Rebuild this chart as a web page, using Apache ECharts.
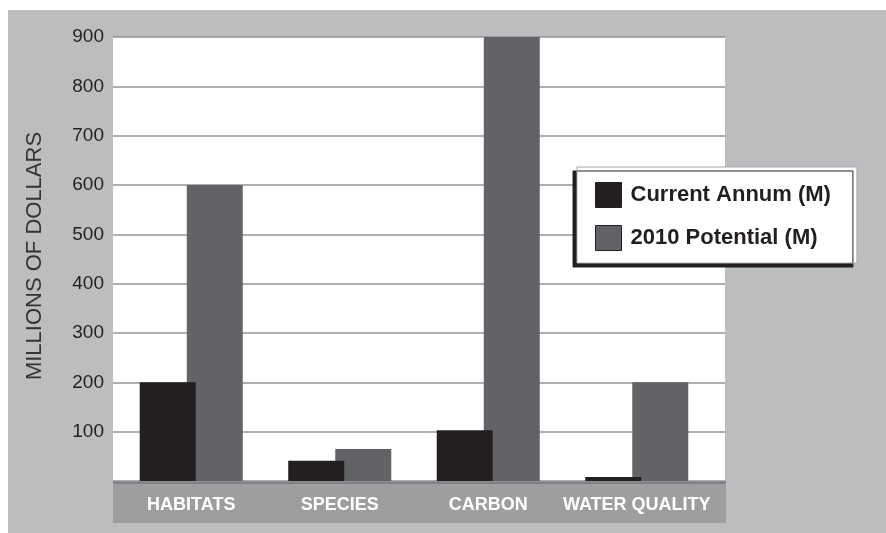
<!DOCTYPE html>
<html>
<head>
<meta charset="utf-8">
<script src="https://cdn.jsdelivr.net/npm/echarts@6/dist/echarts.min.js"></script>
<style>
html,body{margin:0;padding:0;background:#ffffff;}
#chart{width:886px;height:533px;}
</style>
</head>
<body>
<div id="chart"></div>
<script>
var categories = ['HABITATS', 'SPECIES', 'CARBON', 'WATER QUALITY'];
var currentAnnum = [200, 41, 103, 8];
var potential2010 = [600, 65, 900, 200];
var seriesNames = ['Current Annum (M)', '2010 Potential (M)'];
var yTicks = [0, 100, 200, 300, 400, 500, 600, 700, 800, 900];
var yTitle = 'MILLIONS OF DOLLARS';

var chart = echarts.init(document.getElementById('chart'), null, {renderer: 'canvas'});
var regular = '"Liberation Sans", Arial, Helvetica, sans-serif';

var option = {
  backgroundColor: '#ffffff',
  animation: false,
  graphic: [
    {type: 'rect', z: -10, silent: true, shape: {x: 8, y: 10, width: 878, height: 523}, style: {fill: '#bcbdbf'}},
    {type: 'rect', z: -9, silent: true, shape: {x: 113, y: 37, width: 612, height: 444}, style: {fill: '#ffffff'}},
    {type: 'rect', z: -9, silent: true, shape: {x: 113, y: 481, width: 613, height: 42}, style: {fill: '#9d9ea0'}},
    {type: 'rect', z: -8, silent: true, shape: {x: 113, y: 481, width: 613, height: 3}, style: {fill: '#808183'}}
  ],
  legend: {
    orient: 'vertical',
    left: 577,
    top: 167,
    data: seriesNames,
    itemWidth: 26,
    itemHeight: 25,
    itemGap: 17,
    padding: [15, 26, 12, 18],
    backgroundColor: '#ffffff',
    borderColor: '#a7a9ac',
    borderWidth: 1,
    shadowColor: '#231f20',
    shadowBlur: 0,
    shadowOffsetX: -4,
    shadowOffsetY: 4,
    icon: 'rect',
    itemStyle: {borderColor: '#231f20', borderWidth: 1},
    textStyle: {fontFamily: regular, fontSize: 22, fontWeight: 'bold', color: '#231f20', padding: [0, 0, 0, 4]}
  },
  grid: [
    {left: 113, right: 161, top: 37, bottom: 52},
    {left: 117, right: 175, top: 37, bottom: 52}
  ],
  xAxis: [
    {type: 'category', gridIndex: 0, data: categories, show: false},
    {
      type: 'category', gridIndex: 1, data: categories,
      axisLine: {show: false}, axisTick: {show: false},
      axisLabel: {color: '#ffffff', fontFamily: regular, fontSize: 18, fontWeight: 'bold', margin: 15, interval: 0}
    }
  ],
  yAxis: [
    {
      type: 'value', gridIndex: 0, min: yTicks[0], max: yTicks[yTicks.length - 1], interval: 100,
      axisLine: {show: false}, axisTick: {show: false},
      splitLine: {show: true, lineStyle: {color: '#939598', width: 1.5}},
      axisLabel: {
        color: '#231f20', fontFamily: regular, fontSize: 19, margin: 9, padding: [5, 0, 0, 0],
        formatter: function (v) { return v === 0 ? '' : String(v); }
      },
      name: yTitle,
      nameLocation: 'middle',
      nameRotate: 90,
      nameGap: 67,
      nameTextStyle: {color: '#333333', fontFamily: regular, fontSize: 22, padding: [0, 0, 0, 6]}
    },
    {
      type: 'value', gridIndex: 1, min: yTicks[0], max: yTicks[yTicks.length - 1], interval: 100,
      show: false, splitLine: {show: false}
    }
  ],
  series: [
    {
      name: seriesNames[0], type: 'bar', xAxisIndex: 1, yAxisIndex: 1,
      data: currentAnnum, barWidth: 56, barGap: '-16%', z: 4,
      itemStyle: {color: '#231f20'}
    },
    {
      name: seriesNames[1], type: 'bar', xAxisIndex: 1, yAxisIndex: 1,
      data: potential2010, barWidth: 56, barGap: '-16%', z: 3,
      itemStyle: {color: '#626366'}
    }
  ]
};
chart.setOption(option);
</script>
</body>
</html>
